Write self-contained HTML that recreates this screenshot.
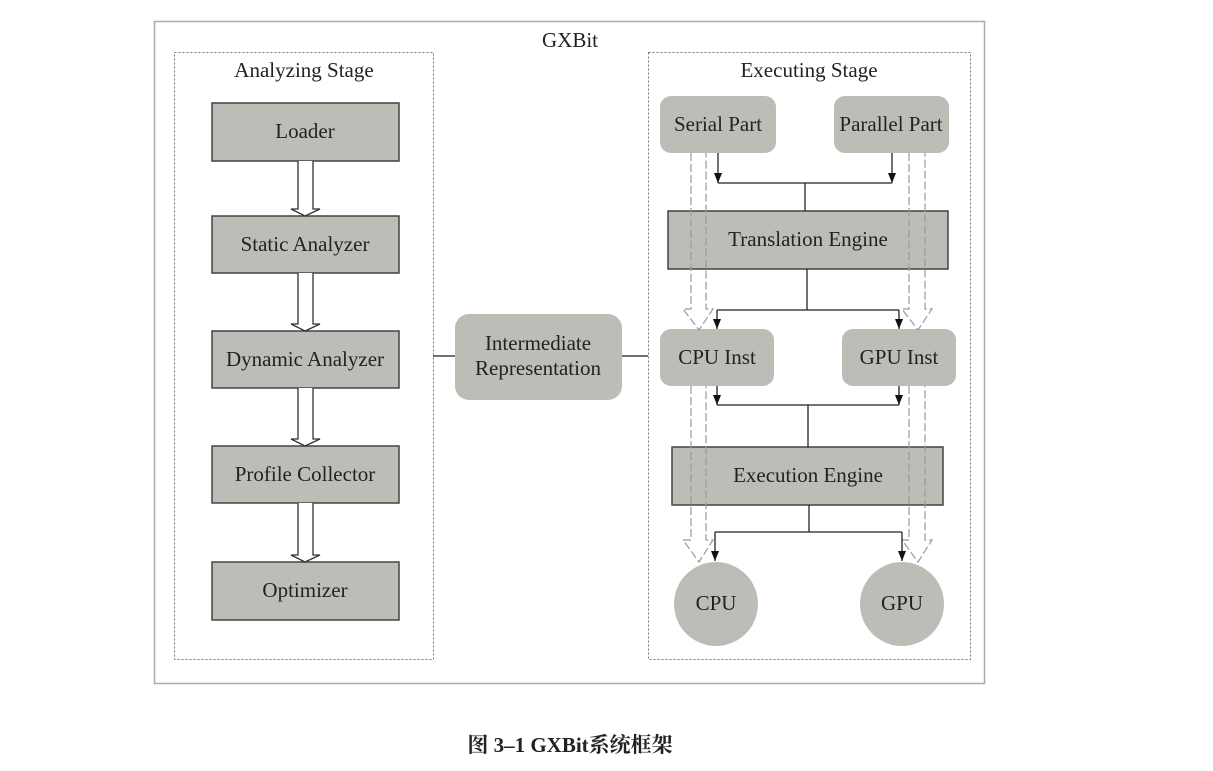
<!DOCTYPE html>
<html><head><meta charset="utf-8"><style>
body{margin:0;background:#fff;}
svg text{font-family:"Liberation Serif","Noto Serif CJK SC",serif;fill:#222;}
</style></head><body>
<svg width="1213" height="766" viewBox="0 0 1213 766" xmlns="http://www.w3.org/2000/svg">
<defs>
<marker id="ah" markerWidth="10" markerHeight="8" refX="10" refY="4" orient="auto" markerUnits="userSpaceOnUse" viewBox="0 0 10 8">
<path d="M0,0 L10,4 L0,8 z" fill="#111"/></marker>
</defs>
<rect x="154.5" y="21.5" width="830" height="662" fill="#fff" stroke="#aaa" stroke-width="1.5"/>
<text x="570" y="47" font-size="21" text-anchor="middle">GXBit</text>
<rect x="174.5" y="52.5" width="259" height="607" fill="none" stroke="#777" stroke-width="1" stroke-dasharray="2,2"/>
<rect x="648.5" y="52.5" width="322" height="607" fill="none" stroke="#777" stroke-width="1" stroke-dasharray="2,2"/>
<text x="304" y="77" font-size="21" text-anchor="middle">Analyzing Stage</text>
<text x="809" y="77" font-size="21" text-anchor="middle">Executing Stage</text>
<g fill="#bdbdb8" stroke="#444" stroke-width="1.5">
<rect x="212" y="103" width="187" height="58"/>
<rect x="212" y="216" width="187" height="57"/>
<rect x="212" y="331" width="187" height="57"/>
<rect x="212" y="446" width="187" height="57"/>
<rect x="212" y="562" width="187" height="58"/>
</g>
<g font-size="21" text-anchor="middle">
<text x="305" y="138">Loader</text>
<text x="305" y="251">Static Analyzer</text>
<text x="305" y="366">Dynamic Analyzer</text>
<text x="305" y="481">Profile Collector</text>
<text x="305" y="597">Optimizer</text>
</g>
<g fill="#fff" stroke="#333" stroke-width="1.3">
<path d="M298,161 V209 H291 L305,216 L320,209 H313 V161"/>
<path d="M298,273 V324 H291 L305,331 L320,324 H313 V273"/>
<path d="M298,388 V439 H291 L305,446 L320,439 H313 V388"/>
<path d="M298,503 V555 H291 L305,562 L320,555 H313 V503"/>
</g>
<line x1="433" y1="356" x2="455" y2="356" stroke="#444" stroke-width="1.5"/>
<line x1="622" y1="356" x2="648" y2="356" stroke="#444" stroke-width="1.5"/>
<rect x="455" y="314" width="167" height="86" rx="14" fill="#bdbdb8"/>
<text x="538" y="350" font-size="21" text-anchor="middle">Intermediate</text>
<text x="538" y="375" font-size="21" text-anchor="middle">Representation</text>
<g fill="#bdbdb8">
<rect x="660" y="96" width="116" height="57" rx="11"/>
<rect x="834" y="96" width="115" height="57" rx="11"/>
<rect x="660" y="329" width="114" height="57" rx="11"/>
<rect x="842" y="329" width="114" height="57" rx="11"/>
<circle cx="716" cy="604" r="42"/>
<circle cx="902" cy="604" r="42"/>
</g>
<rect x="668" y="211" width="280" height="58" fill="#bdbdb8" stroke="#444" stroke-width="1.5"/>
<rect x="672" y="447" width="271" height="58" fill="#bdbdb8" stroke="#444" stroke-width="1.5"/>
<g font-size="21" text-anchor="middle">
<text x="718" y="131">Serial Part</text>
<text x="891" y="131">Parallel Part</text>
<text x="808" y="246">Translation Engine</text>
<text x="717" y="364">CPU Inst</text>
<text x="899" y="364">GPU Inst</text>
<text x="808" y="482">Execution Engine</text>
<text x="716" y="610">CPU</text>
<text x="902" y="610">GPU</text>
</g>
<g fill="none" stroke="#999" stroke-width="1.2" stroke-dasharray="8,3">
<path d="M691,153 V309 H683 L699,330 L713,309 H706 V153"/>
<path d="M909,153 V309 H902 L918,330 L932,309 H925 V153"/>
<path d="M691,386 V540 H683 L699,562 L713,540 H706 V386"/>
<path d="M909,386 V540 H902 L918,562 L932,540 H925 V386"/>
</g>
<g stroke="#222" stroke-width="1.3" fill="none">
<line x1="718" y1="153" x2="718" y2="183" marker-end="url(#ah)"/>
<line x1="892" y1="153" x2="892" y2="183" marker-end="url(#ah)"/>
<polyline points="718,183 892,183"/>
<line x1="805" y1="183" x2="805" y2="211"/>
<line x1="807" y1="269" x2="807" y2="310"/>
<polyline points="717,310 899,310"/>
<line x1="717" y1="310" x2="717" y2="329" marker-end="url(#ah)"/>
<line x1="899" y1="310" x2="899" y2="329" marker-end="url(#ah)"/>
<line x1="717" y1="386" x2="717" y2="405" marker-end="url(#ah)"/>
<line x1="899" y1="386" x2="899" y2="405" marker-end="url(#ah)"/>
<polyline points="717,405 899,405"/>
<line x1="808" y1="405" x2="808" y2="447"/>
<line x1="809" y1="505" x2="809" y2="532"/>
<polyline points="715,532 902,532"/>
<line x1="715" y1="532" x2="715" y2="561" marker-end="url(#ah)"/>
<line x1="902" y1="532" x2="902" y2="561" marker-end="url(#ah)"/>
</g>
<text x="570" y="752" font-size="21" font-weight="bold" text-anchor="middle">图 3–1 GXBit系统框架</text>
</svg>
</body></html>
